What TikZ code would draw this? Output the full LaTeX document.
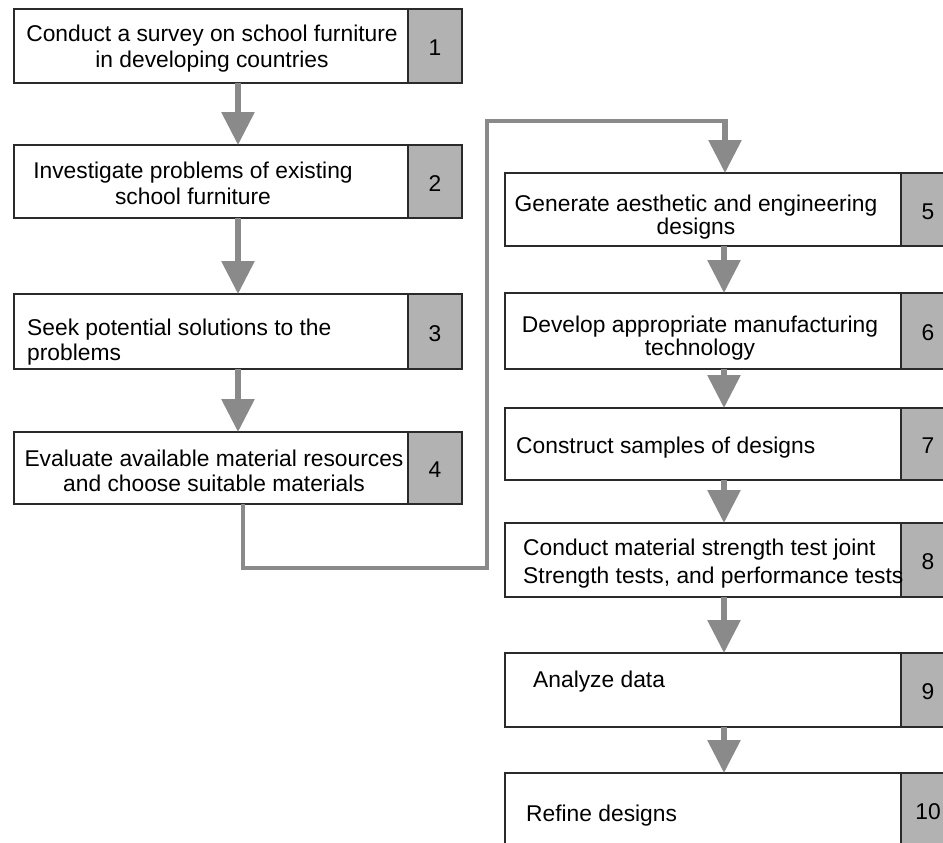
\documentclass[tikz,border=0pt]{standalone}
\usepackage{fontspec}
\setmainfont{Liberation Sans}
\usetikzlibrary{arrows.meta}
\definecolor{boxgray}{HTML}{B2B2B2}
\definecolor{arrgray}{HTML}{8A8A8A}
\definecolor{edgecol}{HTML}{2A2A2A}
\begin{document}
\begin{tikzpicture}[x=1pt,y=-1pt,
  stepbox/.style={draw=edgecol, line width=1.4pt, fill=white, anchor=north west, inner sep=0pt, outer sep=0pt},
  lbox/.style={stepbox, minimum width=394pt},
  rbox/.style={stepbox, minimum width=396pt},
  numbox/.style={draw=edgecol, line width=1.4pt, fill=boxgray, anchor=north west, inner sep=0pt, outer sep=0pt, minimum width=54pt},
  txt/.style={inner sep=0pt, font=\fontsize{22.8}{26}\selectfont},
  numtxt/.style={inner sep=0pt, font=\fontsize{22.8}{26}\selectfont},
  flow/.style={draw=arrgray, line width=6pt, -{Triangle[width=32pt,length=33pt]}},
  conn/.style={draw=arrgray, line width=4pt, line join=miter}
]
\useasboundingbox (0,0) rectangle (943,843);
\clip (0,0) rectangle (943,843);

% left column
\node[lbox, minimum height=74pt] (n1) at (14,9) {};
\node[lbox, minimum height=73pt] (n2) at (14,145) {};
\node[lbox, minimum height=75pt] (n3) at (14,294) {};
\node[lbox, minimum height=72pt] (n4) at (14,432) {};
% right column
\node[rbox, minimum height=73pt] (n5) at (505,173) {};
\node[rbox, minimum height=76pt] (n6) at (505,293) {};
\node[rbox, minimum height=72pt] (n7) at (505,408) {};
\node[rbox, minimum height=74pt] (n8) at (505,523) {};
\node[rbox, minimum height=74pt] (n9) at (505,653) {};
\node[rbox, minimum height=74pt] (n10) at (505,773) {};

% number boxes
\node[numbox, minimum height=74pt] (g1) at (n1.north east) {};
\node[numbox, minimum height=73pt] (g2) at (n2.north east) {};
\node[numbox, minimum height=75pt] (g3) at (n3.north east) {};
\node[numbox, minimum height=72pt] (g4) at (n4.north east) {};
\node[numbox, minimum height=73pt] (g5) at (n5.north east) {};
\node[numbox, minimum height=76pt] (g6) at (n6.north east) {};
\node[numbox, minimum height=72pt] (g7) at (n7.north east) {};
\node[numbox, minimum height=74pt] (g8) at (n8.north east) {};
\node[numbox, minimum height=74pt] (g9) at (n9.north east) {};
\node[numbox, minimum height=74pt] (g10) at (n10.north east) {};

% numbers
\foreach \i in {1,...,10}{
  \node[numtxt] (m\i) at ([yshift=-2pt]g\i.center) {\i};
}

% texts (base anchor = baseline of the last line)
\node[txt, anchor=base, align=center, font=\fontsize{22.8}{27}\selectfont] (t1) at (212,68) {Conduct a survey on school furniture\\in developing countries};
\node[txt, anchor=base, align=center] (t2) at (193,204) {Investigate problems of existing\\school furniture};
\node[txt, anchor=base west, align=left, font=\fontsize{22.8}{25}\selectfont] (t3) at (27,360) {Seek potential solutions to the\\problems};
\node[txt, anchor=base, align=center, font=\fontsize{22.8}{25}\selectfont] (t4) at (214,491) {Evaluate available material resources\\and choose suitable materials};
\node[txt, anchor=base, align=center, font=\fontsize{22.8}{23}\selectfont] (t5) at (696,234) {Generate aesthetic and engineering\\designs};
\node[txt, anchor=base, align=center, font=\fontsize{22.8}{23}\selectfont] (t6) at (700,355) {Develop appropriate manufacturing\\technology};
\node[txt, anchor=base west] (t7) at (516,453) {Construct samples of designs};
\node[txt, anchor=base west, align=left, font=\fontsize{22.8}{28}\selectfont] (t8) at (523,583) {Conduct material strength test joint\\Strength tests, and performance tests};
\node[txt, anchor=base west] (t9) at (533,687) {Analyze data};
\node[txt, anchor=base west] (t10) at (526,821) {Refine designs};

% arrow columns
\coordinate (ax) at (238,0);
\coordinate (bx) at (724,0);
\draw[flow] (n1.south -| ax) -- (n2.north -| ax);
\draw[flow] (n2.south -| ax) -- (n3.north -| ax);
\draw[flow] (n3.south -| ax) -- (n4.north -| ax);
\draw[flow] (n5.south -| bx) -- (n6.north -| bx);
\draw[flow] (n6.south -| bx) -- (n7.north -| bx);
\draw[flow] (n7.south -| bx) -- (n8.north -| bx);
\draw[flow] (n8.south -| bx) -- (n9.north -| bx);
\draw[flow] (n9.south -| bx) -- (n10.north -| bx);

% connector 4 -> 5
\coordinate (k0) at (243,568);
\coordinate (k1) at (487,121);
\coordinate (k2) at (725,121);
\draw[conn] (n4.south -| k0) -- (k0) -| (k1) -- ([xshift=3pt]k2);
\draw[flow] (k2) -- (n5.north -| k2);
\end{tikzpicture}
\end{document}
